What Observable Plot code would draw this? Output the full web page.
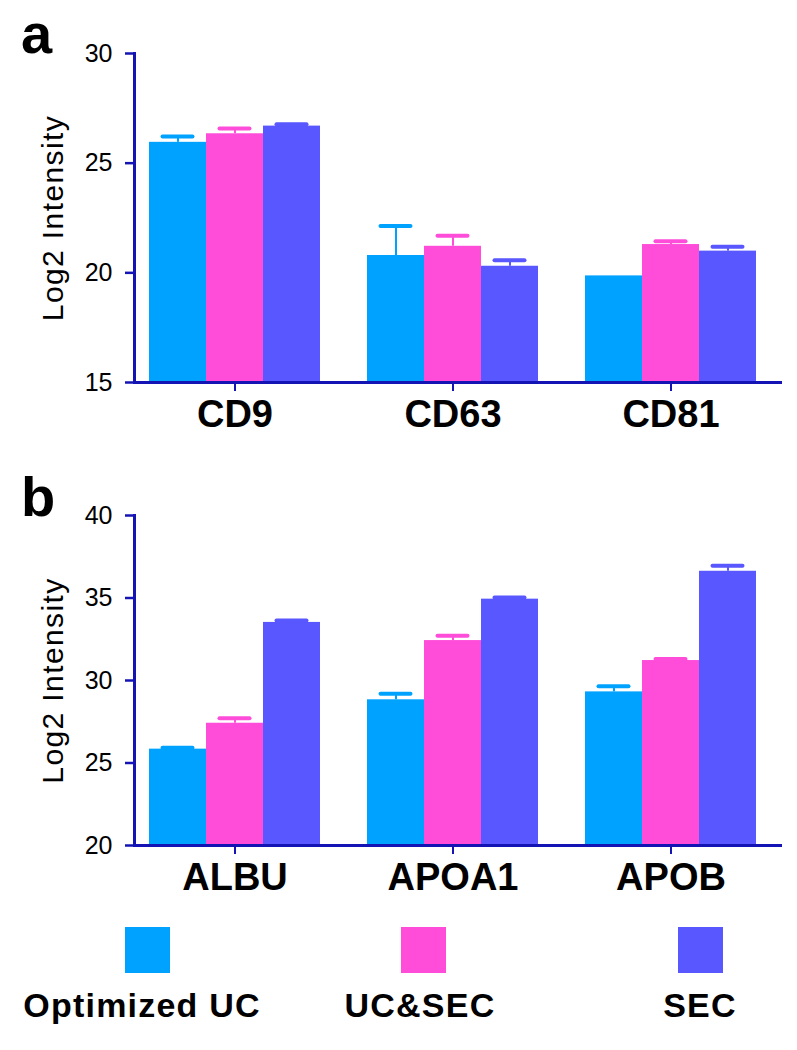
<!DOCTYPE html>
<html>
<head>
<meta charset="utf-8">
<script src="https://cdn.jsdelivr.net/npm/d3@7"></script>
<script src="https://cdn.jsdelivr.net/npm/@observablehq/plot@0.6"></script>
<style>
  body { margin: 0; background: #fff; font-family: "Liberation Sans", Arial, sans-serif; }
  #wrap { position: relative; width: 797px; height: 1050px; overflow: hidden; }
  .panel { position: absolute; left: 0; }
  .letter { position: absolute; font-weight: bold; font-size: 56px; line-height: normal; color: #000; }
  .sw { position: absolute; width: 45px; height: 46px; }
  .lab { position: absolute; width: 300px; text-align: center; font-weight: bold; font-size: 34px; line-height: 34px; letter-spacing: 1.2px; color: #000; white-space: nowrap; }
  g[aria-description="ylab"] text { letter-spacing: 1.4px; }
</style>
</head>
<body>
<div id="wrap"></div>
<script>
// ---- data ----
const series = ["Optimized UC", "UC&SEC", "SEC"];
const seriesColors = ["#00A2FF", "#FF4DD9", "#5957FF"];

const cdMarkers = ["CD9", "CD63", "CD81"];
const cdUC      = [25.95, 20.79, 19.86];
const cdUCErr   = [0.27, 1.34, 0];
const cdUCSEC   = [26.34, 21.21, 21.29];
const cdUCSECErr= [0.24, 0.48, 0.15];
const cdSEC     = [26.69, 20.30, 20.99];
const cdSECErr  = [0.08, 0.27, 0.20];
const yTicksA   = [15, 20, 25, 30];

const apoProteins = ["ALBU", "APOA1", "APOB"];
const apoUC       = [25.84, 28.83, 29.31];
const apoUCErr    = [0.08, 0.36, 0.34];
const apoUCSEC    = [27.41, 32.42, 31.21];
const apoUCSECErr = [0.30, 0.29, 0.10];
const apoSEC      = [33.52, 34.93, 36.62];
const apoSECErr   = [0.12, 0.10, 0.33];
const yTicksB     = [20, 25, 30, 35, 40];

const yLabel = "Log2 Intensity";

// ---- build ----
const navy = "#1414B4";
function rowsOf(cats, vals, errs) {
  const rows = [];
  vals.forEach((v, j) => cats.forEach((c, i) => rows.push({cat: c, j, series: series[j], value: v[i], err: errs[j][i]})));
  return rows;
}

function panel(cats, rows, ticks, height, mt, mb) {
  const xr = [149, 756];
  const pi = 0.2156;
  const step = (xr[1] - xr[0]) / (cats.length - pi);
  const bw = step * (1 - pi);
  const sub = bw / 3;
  const capW = 30;
  const base = ticks[0];
  const marks = [];
  series.forEach((s, j) => {
    const r = rows.filter(d => d.j === j);
    marks.push(Plot.barY(r, {x: "cat", y1: base, y2: "value", fill: seriesColors[j],
      insetLeft: j * sub, insetRight: (2 - j) * sub}));
  });
  series.forEach((s, j) => {
    const r = rows.filter(d => d.j === j && d.err > 0);
    marks.push(Plot.ruleX(r, {x: "cat", y1: "value", y2: d => d.value + d.err, stroke: seriesColors[j],
      strokeWidth: 2, dx: (j - 1) * sub}));
    marks.push(Plot.tickY(r, {x: "cat", y: d => d.value + d.err, stroke: seriesColors[j], strokeWidth: 4,
      strokeLinecap: "round",
      insetLeft: j * sub + (sub - capW) / 2, insetRight: (2 - j) * sub + (sub - capW) / 2}));
  });
  marks.push(Plot.ruleY([base], {stroke: navy, strokeWidth: 3}));
  marks.push(Plot.frame({anchor: "left", stroke: navy, strokeWidth: 3}));
  marks.push(Plot.axisY(ticks, {tickSize: 9, tickPadding: 13, fontSize: 25, stroke: navy, strokeWidth: 2.5, fill: "#000", label: null}));
  marks.push(Plot.axisX({tickSize: 9, tickPadding: 9, fontSize: 38, fontWeight: "bold", stroke: navy, strokeWidth: 2, fill: "#000", label: null}));
  marks.push(Plot.text([yLabel], {text: d => d, frameAnchor: "left", textAnchor: "middle", lineAnchor: "middle",
    dx: -81, rotate: -90, fontSize: 30, fill: "#000", ariaDescription: "ylab"}));
  return Plot.plot({
    width: 797, height,
    marginLeft: 134, marginRight: 15, marginTop: mt, marginBottom: mb,
    x: {domain: cats, range: xr, paddingInner: pi, paddingOuter: 0, label: null},
    y: {domain: [ticks[0], ticks[ticks.length - 1]], label: null},
    style: {fontFamily: "'Liberation Sans', Arial, sans-serif", background: "transparent", overflow: "visible"},
    marks
  });
}

const wrap = document.getElementById("wrap");
const rowsA = rowsOf(cdMarkers, [cdUC, cdUCSEC, cdSEC], [cdUCErr, cdUCSECErr, cdSECErr]);
const rowsB = rowsOf(apoProteins, [apoUC, apoUCSEC, apoSEC], [apoUCErr, apoUCSECErr, apoSECErr]);

const pa = panel(cdMarkers, rowsA, yTicksA, 460, 53, 78);
pa.classList.add("panel"); pa.style.top = "0px";
wrap.appendChild(pa);
const pb = panel(apoProteins, rowsB, yTicksB, 440, 55, 55);
pb.classList.add("panel"); pb.style.top = "460px";
wrap.appendChild(pb);

// panel letters
[["a", 1], ["b", 464]].forEach(([t, top]) => {
  const d = document.createElement("div");
  d.className = "letter"; d.textContent = t;
  d.style.left = "21px"; d.style.top = top + "px";
  wrap.appendChild(d);
});

// legend
const swCenters = [147, 423, 700];
const labCenters = [142, 420, 700];
series.forEach((s, j) => {
  const sw = document.createElement("div");
  sw.className = "sw"; sw.style.background = seriesColors[j];
  sw.style.left = (swCenters[j] - 22.5) + "px"; sw.style.top = "927px";
  wrap.appendChild(sw);
  const lb = document.createElement("div");
  lb.className = "lab"; lb.textContent = s;
  lb.style.left = (labCenters[j] - 150) + "px"; lb.style.top = "988px";
  wrap.appendChild(lb);
});
</script>
</body>
</html>
